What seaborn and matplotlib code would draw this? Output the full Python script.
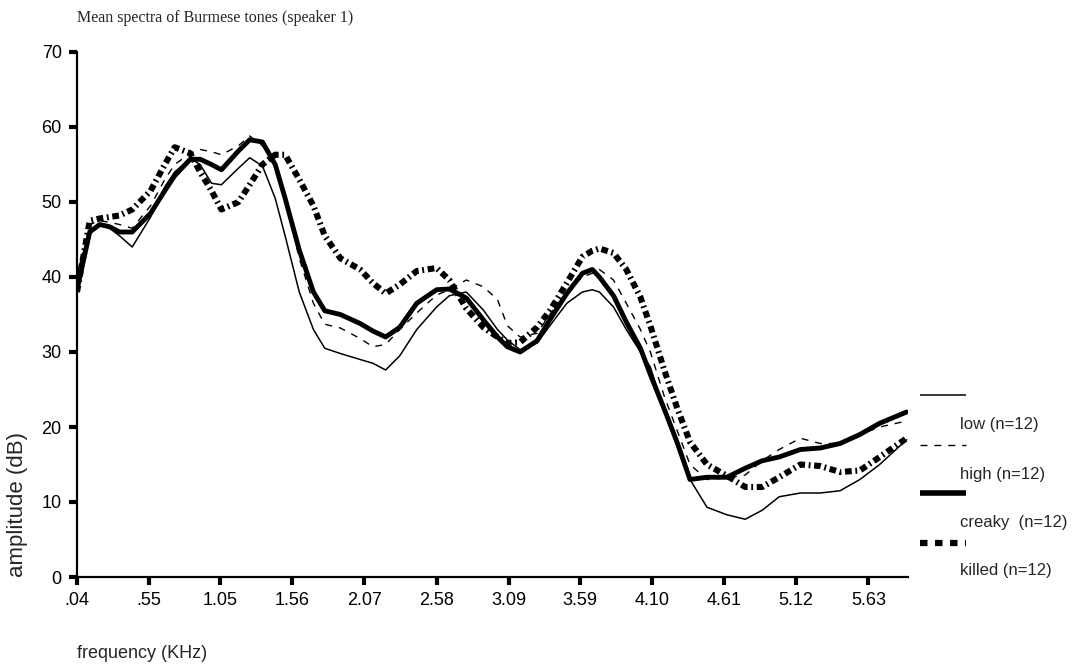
import matplotlib
matplotlib.use("Agg")
import matplotlib.pyplot as plt
import numpy as np
import pandas as pd
import seaborn as sns
from matplotlib.lines import Line2D

# frequency (KHz) sample points
freq = [0.04, 0.13, 0.20, 0.27, 0.34, 0.43, 0.56, 0.66, 0.73, 0.84,
        0.91, 0.99, 1.06, 1.18, 1.26, 1.35, 1.44, 1.51, 1.61, 1.71,
        1.79, 1.90, 2.04, 2.13, 2.22, 2.32, 2.44, 2.58, 2.67, 2.79,
        2.91, 3.01, 3.08, 3.17, 3.29, 3.38, 3.50, 3.61, 3.68, 3.73,
        3.83, 3.92, 4.02, 4.09, 4.19, 4.28, 4.37, 4.49, 4.63, 4.76,
        4.88, 5.00, 5.15, 5.29, 5.43, 5.57, 5.71, 5.90]

low = [40.5, 46, 47, 46.5, 45.5, 44, 48, 52, 54, 55.8,
       55, 52.5, 52.3, 54.5, 55.9, 54.8, 50.5, 45.5, 38, 33,
       30.5, 29.8, 29, 28.5, 27.6, 29.5, 33, 36, 37.5, 38,
       35.6, 33, 31.6, 30.3, 31.2, 33.5, 36.5, 38, 38.3, 38,
       36, 33, 30, 28, 22, 17.5, 13, 9.3, 8.3, 7.7,
       8.9, 10.7, 11.2, 11.2, 11.5, 13, 15, 18.3]

high = [39.5, 47, 47.5, 47.3, 47, 46.5, 49.5, 53, 55, 56.5,
        57, 56.7, 56.3, 57.5, 58.8, 57.5, 55.5, 50.5, 42.5, 36.5,
        33.7, 33.2, 31.8, 30.7, 31, 33, 35.2, 37.6, 38.3, 39.6,
        38.7, 37, 33.5, 32, 32.5, 35, 38, 40, 40.5, 41,
        39.6, 36.5, 33, 30, 24, 19.5, 15, 13, 13.2, 13.6,
        15.5, 17, 18.5, 17.8, 17.8, 19, 20, 20.8]

creaky = [38.3, 46, 47, 46.7, 46, 46, 48.5, 51.5, 53.5, 55.7,
          55.7, 55, 54.3, 56.8, 58.3, 58, 55, 50.5, 43.6, 38,
          35.5, 35, 33.8, 32.8, 32, 33.3, 36.5, 38.3, 38.4, 37.2,
          34.3, 32, 30.7, 30, 31.5, 34.3, 37.8, 40.5, 41, 40,
          37.5, 34, 30.5, 27, 22.3, 17.9, 13, 13.3, 13.3, 14.5,
          15.5, 16, 17, 17.2, 17.8, 19, 20.5, 22]

killed = [38, 47.5, 47.8, 48, 48.2, 49, 51.5, 55, 57.3, 56.5,
          54, 51.5, 49, 50, 52.3, 55, 56.3, 56.3, 53, 49.5,
          45.5, 42.5, 41, 39.2, 37.8, 39, 40.8, 41.2, 39.6, 35.8,
          33.3, 32, 31.2, 31.3, 33.3, 35.5, 39.2, 42.7, 43.5, 43.8,
          43.2, 41, 37.3, 33.5, 27.5, 22.5, 18, 15, 13.5, 12,
          12, 13.3, 15, 14.8, 14, 14.2, 16, 18.5]

xticks = [0.04, 0.55, 1.05, 1.56, 2.07, 2.58, 3.09, 3.59, 4.10, 4.61, 5.12, 5.63]
xtick_labels = [".04", ".55", "1.05", "1.56", "2.07", "2.58", "3.09", "3.59",
                "4.10", "4.61", "5.12", "5.63"]
yticks = [0, 10, 20, 30, 40, 50, 60, 70]
legend_labels = ["low (n=12)", "high (n=12)", "creaky  (n=12)", "killed (n=12)"]

sns.set_style("ticks")
plt.rcParams["font.family"] = ["Liberation Sans", "DejaVu Sans"]

fig = plt.figure(figsize=(10.73, 6.70), dpi=100)
ax = fig.add_axes([77 / 1073, 93 / 670, (908 - 77) / 1073, (577 - 52) / 670])

df = pd.DataFrame({"freq": freq, "low": low, "high": high,
                   "creaky": creaky, "killed": killed})

sns.lineplot(data=df, x="freq", y="low", ax=ax, color="black", lw=1.1)
sns.lineplot(data=df, x="freq", y="high", ax=ax, color="black", lw=1.0,
             linestyle=(0, (5, 5)))
sns.lineplot(data=df, x="freq", y="creaky", ax=ax, color="black", lw=3.5)
sns.lineplot(data=df, x="freq", y="killed", ax=ax, color="black", lw=4.4,
             linestyle=(0, (1.1, 0.6, 0.3, 0.6)), dash_capstyle="butt")

ax.set_xlim(0.04, 5.91)
ax.set_ylim(0, 70)
ax.set_xticks(xticks)
ax.set_xticklabels(xtick_labels)
ax.set_yticks(yticks)
ax.tick_params(axis="both", direction="out", length=6, width=3,
               labelsize=13, color="black", labelcolor="black", pad=5)
for side in ["top", "right"]:
    ax.spines[side].set_visible(False)
for side in ["left", "bottom"]:
    ax.spines[side].set_linewidth(1.6)
    ax.spines[side].set_color("black")

ax.set_xlabel("frequency (KHz)", fontsize=13, loc="left", labelpad=26)
ax.set_ylabel("amplitude (dB)", fontsize=16, loc="bottom", labelpad=10)

fig.text(77 / 1073, 1 - 18 / 670, "Mean spectra of Burmese tones (speaker 1)",
         fontsize=11.5, family=["Liberation Serif", "DejaVu Serif"],
         ha="left", va="center")

# legend drawn like the original: sample line, then its label a bit lower
styles = [dict(lw=1.1, ls="-"), dict(lw=1.0, ls=(0, (5, 5))),
          dict(lw=4.0, ls="-"), dict(lw=4.5, ls=(0, (1.2, 1.2)))]
line_y = [395, 445, 493, 543]
text_y = [425, 474, 522, 570]
for st, ly, ty, lab in zip(styles, line_y, text_y, legend_labels):
    fig.add_artist(Line2D([920 / 1073, 966 / 1073], [1 - ly / 670, 1 - ly / 670],
                          color="black", solid_capstyle="butt",
                          dash_capstyle="butt", **st))
    fig.text(960 / 1073, 1 - ty / 670, lab, fontsize=12, ha="left", va="center")

fig.savefig("out.png", dpi=100)
